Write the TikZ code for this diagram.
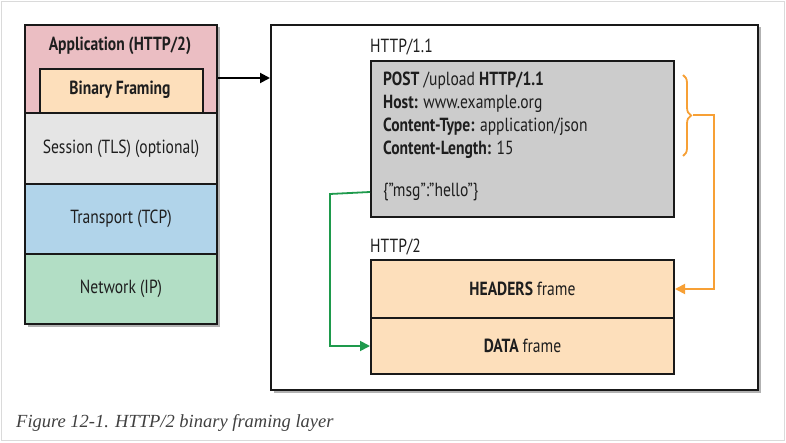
\documentclass[tikz,border=0pt]{standalone}
\usepackage{fontspec}
\setmainfont{PT Sans}[FakeStretch=0.82]
\newfontfamily\capfont{Liberation Serif}
\usetikzlibrary{arrows.meta,shadows,decorations.pathreplacing}
\definecolor{apppink}{HTML}{EBBEC3}
\definecolor{peach}{HTML}{FDDFBB}
\definecolor{sessgray}{HTML}{E5E5E5}
\definecolor{tcpblue}{HTML}{B1D4EA}
\definecolor{ipgreen}{HTML}{B2DEC5}
\definecolor{boxgray}{HTML}{CCCCCC}
\definecolor{orng}{HTML}{F7A035}
\definecolor{grn}{HTML}{1E9A4C}
\definecolor{frame}{HTML}{DADADA}
\definecolor{txt}{HTML}{1E1E1E}
\begin{document}
\begin{tikzpicture}[x=1pt,y=-1pt,
  layer/.style={draw=black!90, line width=2pt, anchor=north west, inner sep=0pt,
     drop shadow={shadow xshift=2.5pt, shadow yshift=-2.5pt, fill=black, opacity=0.3}},
  flat/.style={draw=black!90, line width=2pt, anchor=north west, inner sep=0pt},
  lbl/.style={font=\fontsize{19}{22}\selectfont, text=txt, inner sep=0pt},
  blbl/.style={lbl, font=\fontsize{19}{22}\selectfont\bfseries},
  tip/.style={-{Triangle[length=10pt,width=10pt]}},
]
\useasboundingbox (0,0) rectangle (786,443);
\draw[frame, line width=1pt] (1.5,1.5) rectangle (784.5,440.5);

% left stack
\node[layer, fill=apppink, minimum width=192pt, minimum height=88pt] (app) at (24,24) {};
\node[blbl] (applbl) at (120,46) {Application (HTTP/2)};
\node[flat, fill=peach, minimum width=163pt, minimum height=44pt] (bin) at (39,68) {};
\node[blbl] (binlbl) at (120,90) {Binary Framing};
\node[layer, fill=sessgray, minimum width=192pt, minimum height=71pt] (sess) at (24,112) {};
\node[lbl] (sesslbl) at (sess.center) {Session (TLS) (optional)};
\node[layer, fill=tcpblue, minimum width=192pt, minimum height=70pt] (tcp) at (24,183) {};
\node[lbl] (tcplbl) at (tcp.center) {Transport (TCP)};
\node[layer, fill=ipgreen, minimum width=192pt, minimum height=70pt] (ip) at (24,253) {};
\node[lbl] (iplbl) at (ip.center) {Network (IP)};

% right frame
\node[layer, fill=white, minimum width=487pt, minimum height=365pt] (big) at (270,24) {};
\draw[tip, line width=2pt] (app.east |- 0,78) -- (big.west |- 0,78);

% HTTP/1.1
\node[lbl, anchor=south west] (h11) at (370,55) {HTTP/1.1};
\node[flat, fill=boxgray, minimum width=303pt, minimum height=156pt] (gray) at (370,60) {};
\node[lbl, anchor=north west, align=left, font=\fontsize{19}{22.8}\selectfont] (req) at (383,72)
  {\textbf{POST} /upload \textbf{HTTP/1.1}\\
   \textbf{Host:} www.example.org\\
   \textbf{Content-Type:} application/json\\
   \textbf{Content-Length:} 15};
\node[lbl, anchor=west] (msg) at (383,192) {\{”msg”:”hello”\}};

% HTTP/2
\node[lbl, anchor=south west] (h2) at (370,255) {HTTP/2};
\node[flat, fill=peach, minimum width=303pt, minimum height=58pt] (hdr) at (370,259) {};
\node[blbl] (hdrlbl) at (hdr.center) {HEADERS \mdseries frame};
\node[flat, fill=peach, minimum width=303pt, minimum height=56pt] (data) at (370,317) {};
\node[blbl] (datalbl) at (data.center) {DATA \mdseries frame};

% orange brace and connector
\draw[orng, line width=1.8pt, decorate, decoration={brace, amplitude=8pt}] (683,75) -- (683,156);
\coordinate (bt) at (693,115);
\draw[orng, line width=1.8pt, tip] (bt) -- (714,115) |- (hdr.east);

% green connector
\draw[grn, line width=1.8pt, tip] (gray.west |- msg) -- (330,194) |- (data.west);

% caption
\node[anchor=west, inner sep=0pt, text=txt!85, font=\capfont\itshape\fontsize{18.5}{20}\selectfont] (cap) at (16,423)
  {Figure 12-1. HTTP/2 binary framing layer};
\end{tikzpicture}
\end{document}
